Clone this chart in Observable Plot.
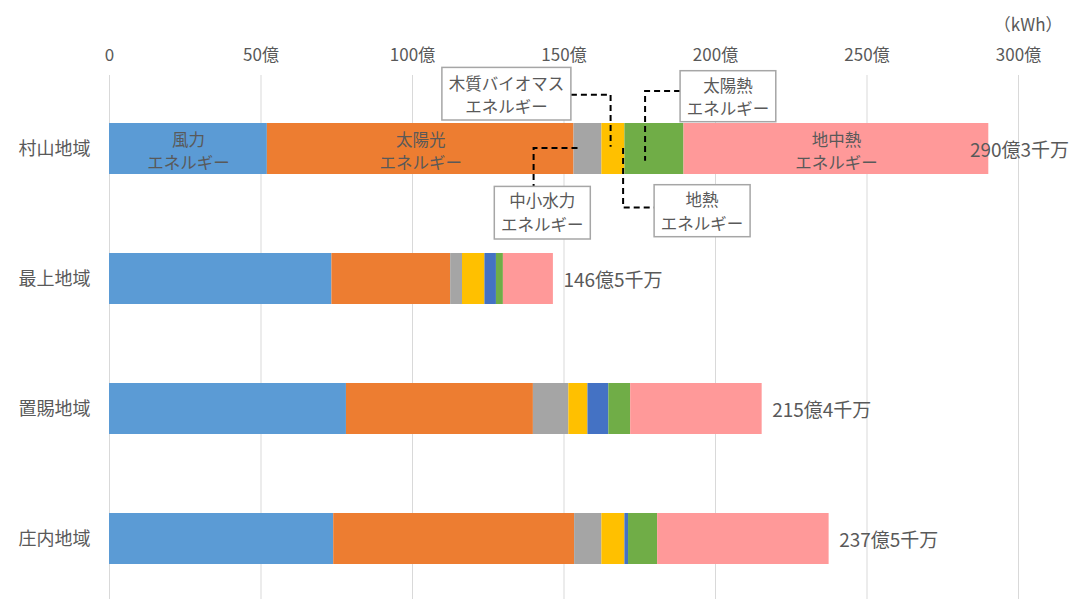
<!DOCTYPE html>
<html><head><meta charset="utf-8">
<script src="https://cdn.jsdelivr.net/npm/d3@7"></script>
<script src="https://cdn.jsdelivr.net/npm/@observablehq/plot@0.6"></script>
<style>
body{margin:0;background:#fff;}
#chart svg{display:block;}
</style></head><body>
<div id="chart"></div>
<script>
// ---- data ----
const regions = ["村山地域","最上地域","置賜地域","庄内地域"];
const types = ["風力エネルギー","太陽光エネルギー","中小水力エネルギー","木質バイオマスエネルギー","地熱エネルギー","太陽熱エネルギー","地中熱エネルギー"];
const colors = ["#5B9BD5","#ED7D31","#A5A5A5","#FFC000","#4472C4","#70AD47","#FF9999"];
const wind        = [52.1, 73.4, 78.2, 74.0];
const solar       = [101.2, 39.2, 61.7, 79.5];
const hydro       = [9.2, 3.9, 11.7, 9.0];
const biomass     = [7.6, 7.4, 6.3, 7.6];
const geothermal  = [0, 3.8, 6.9, 1.2];
const solarHeat   = [19.5, 2.3, 7.2, 9.6];
const groundHeat  = [100.6, 16.5, 43.4, 56.6];
const totals      = [290.3, 146.5, 215.4, 237.5];
const totalLabels = ["290億3千万","146億5千万","215億4千万","237億5千万"];
const xTicks      = [0, 50, 100, 150, 200, 250, 300];
const xTickLabels = ["0","50億","100億","150億","200億","250億","300億"];
const unitLabel   = "（kWh）";
const innerLabels = {"風力エネルギー":"風力\nエネルギー","太陽光エネルギー":"太陽光\nエネルギー","地中熱エネルギー":"地中熱\nエネルギー"};

const series = [wind, solar, hydro, biomass, geothermal, solarHeat, groundHeat];
const rows = [];
regions.forEach((r, i) => types.forEach((t, j) => rows.push({region: r, type: t, value: series[j][i]})));

const FONT = '"Noto Sans CJK JP","Noto Sans",sans-serif';
const TXT = "#595959";

const plot = Plot.plot({
  width: 1073, height: 599,
  marginLeft: 109, marginRight: 55, marginTop: 75, marginBottom: 0,
  style: {fontFamily: FONT, color: TXT, background: "#fff"},
  x: {domain: [0, 300], label: null},
  y: {domain: regions, range: [83.2, 603], paddingInner: 0.6083, paddingOuter: 0.3, label: null},
  color: {domain: types, range: colors},
  marks: [
    Plot.gridX(xTicks, {stroke: "#d9d9d9", strokeOpacity: 1, strokeWidth: 1}),
    Plot.axisX({anchor: "top", label: null, ticks: xTicks, tickFormat: (d) => xTickLabels[xTicks.indexOf(d)], tickSize: 0, tickPadding: 15, fontSize: 17, fill: TXT}),
    Plot.axisY({label: null, tickSize: 0, tickPadding: 19, fontSize: 18, fill: TXT}),
    Plot.barX(rows, Plot.stackX({x: "value", y: "region", fill: "type", order: null})),
    Plot.text(rows, Plot.stackX({x: "value", y: "region", order: null,
      text: (d) => d.region === regions[0] && innerLabels[d.type] ? innerLabels[d.type] : "",
      fill: TXT, fontSize: 16.5, lineHeight: 1.42, dy: 1})),
    Plot.text(regions, {x: (d, i) => totals[i], y: (d) => d, text: (d, i) => totalLabels[i],
      filter: (d, i) => i > 0, textAnchor: "start", dx: 10, dy: 2, fontSize: 19, fill: TXT}),
    Plot.text(regions, {x: (d, i) => totals[i], y: (d) => d, text: (d, i) => totalLabels[i],
      filter: (d, i) => i === 0, textAnchor: "end", dx: 80, dy: 2, fontSize: 19, fill: TXT}),
    Plot.text([unitLabel], {frameAnchor: "top-right", dy: -57, dx: 44, textAnchor: "end", fontSize: 17, fill: TXT})
  ]
});
document.getElementById("chart").appendChild(plot);

// ---- callouts (positioned through the plot's own scales) ----
const xs = plot.scale("x"), ys = plot.scale("y");
const ri = 0; // 村山地域
const cy = ys.apply(regions[ri]) + ys.bandwidth / 2;
function segStart(typeIdx) { let s = 0; for (let j = 0; j < typeIdx; j++) s += series[j][ri]; return s; }
const callouts = [
  {type: 3, frac: 0.4, lines: ["木質バイオマス","エネルギー"], box: [-168.7, -39.7, -81.1, -28.5], tx: -104.2, ty: [-66, -42.5],
   path: [[-39.7, -53.8], [0, -53.8], [0, -1.8]]},
  {type: 5, frac: 0.35, lines: ["太陽熱","エネルギー"], box: [35, 130.7, -77.8, -26.8], tx: 82.9, ty: [-63.5, -40.1],
   path: [[35, -57.5], [0, -57.5], [0, 12.2]]},
  {type: 2, frac: 0, lines: ["中小水力","エネルギー"], box: [-79.2, 16.8, 37.9, 90.5], tx: -31.2, ty: [51.5, 75],
   path: [[4, -0.5], [-39.9, -0.5], [-39.9, 37.9]]},
  {type: 4, frac: 0, lines: ["地熱","エネルギー"], box: [29.7, 125.7, 36.2, 88.2], tx: 77.7, ty: [50, 74.5],
   path: [[-1.3, -0.5], [-1.3, 58.9], [29.7, 58.9]]}
];
const g = d3.select(plot).append("g").attr("font-family", FONT);
callouts.forEach((c) => {
  const v0 = segStart(c.type), v = v0 + c.frac * series[c.type][ri];
  const ax = xs.apply(v);
  g.append("path")
    .attr("d", d3.line()(c.path.map(([dx, dy]) => [ax + dx, cy + dy])))
    .attr("fill", "none").attr("stroke", "#000").attr("stroke-width", 2).attr("stroke-dasharray", "6,4");
  g.append("rect")
    .attr("x", ax + c.box[0]).attr("y", cy + c.box[2])
    .attr("width", c.box[1] - c.box[0]).attr("height", c.box[3] - c.box[2])
    .attr("fill", "#fff").attr("stroke", "#A6A6A6").attr("stroke-width", 1.5);
  c.lines.forEach((t, k) => {
    g.append("text").attr("x", ax + c.tx).attr("y", cy + c.ty[k])
      .attr("text-anchor", "middle").attr("dominant-baseline", "central")
      .attr("font-size", 16.5).attr("fill", TXT).text(t);
  });
});
</script>
</body></html>
